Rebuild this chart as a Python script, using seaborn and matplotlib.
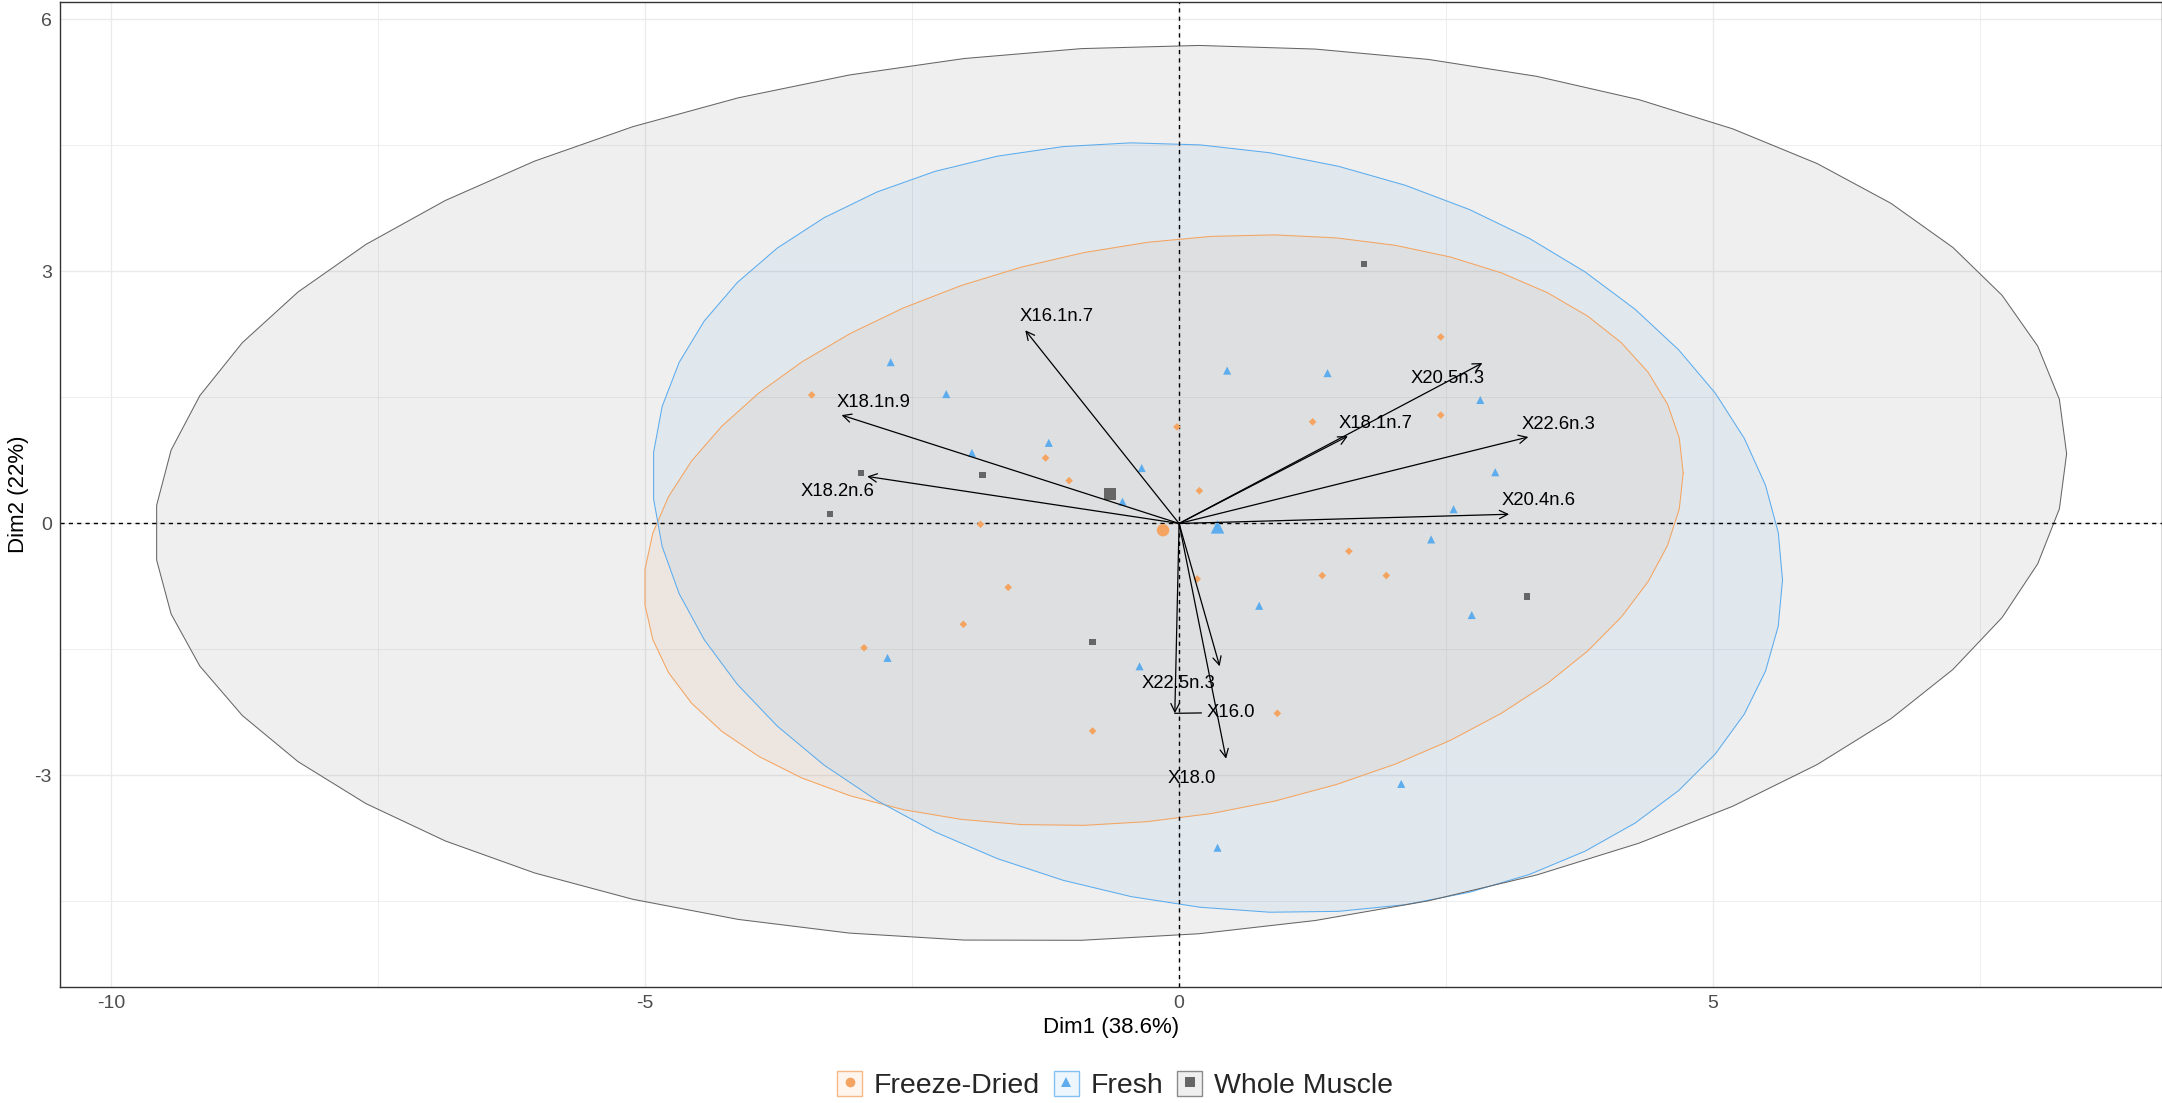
"""
PCA biplot - fatty acid profile by sample type
"""

import numpy as np
import pandas as pd
import matplotlib
matplotlib.use("Agg")
import matplotlib.pyplot as plt
from matplotlib.patches import Patch
from matplotlib.lines import Line2D
from matplotlib.legend_handler import HandlerTuple
from matplotlib.colors import to_rgba
import seaborn as sns

# -------------------------------------------------------
# Data
# -------------------------------------------------------

groups = ["Freeze-Dried", "Fresh", "Whole Muscle"]
colors = ["#F4A460", "#5CACEE", "#666666"]
shapes = ["o", "^", "s"]
small_shapes = ["D", "^", "s"]

# individuals
fd_x = [-3.44, -1.86, -1.25, -1.03, -0.02, 0.19, 0.17, 2.45, 2.45,
        1.25, 1.59, -1.60, 1.34, 1.94, -0.81, 0.92, -2.02, -2.95]
fd_y = [1.53, -0.01, 0.78, 0.51, 1.15, 0.39, -0.66, 2.22, 1.29,
        1.21, -0.33, -0.76, -0.62, -0.62, -2.47, -2.26, -1.20, -1.48]

fr_x = [-2.70, -2.18, -1.94, -1.22, -0.53, -0.35, 0.45, 1.39, 2.82,
        2.96, 2.57, 2.36, 0.75, 2.74, -0.37, 2.08, 0.36, -2.73]
fr_y = [1.92, 1.54, 0.84, 0.96, 0.26, 0.66, 1.82, 1.79, 1.47,
        0.61, 0.17, -0.19, -0.98, -1.09, -1.70, -3.10, -3.86, -1.60]

wm_x = [-2.98, -3.27, -1.84, 1.73, -0.81, 3.26]
wm_y = [0.60, 0.11, 0.58, 3.09, -1.41, -0.87]

# group centroids
cen_x = [-0.15, 0.36, -0.65]
cen_y = [-0.08, -0.04, 0.35]

# concentration ellipses: centre, x half-axis, xy term, y term
ell_cx = [-0.145, 0.36, -0.64]
ell_cy = [-0.08, -0.05, 0.36]
ell_rx = [4.865, 5.29, 8.95]
ell_rxy = [0.68, -0.62, 0.47]
ell_ry = [3.45, 4.54, 5.31]

# variables (arrow tips and label positions)
var_names = ["X16.1n.7", "X18.1n.9", "X18.2n.6", "X20.5n.3", "X18.1n.7",
             "X22.6n.3", "X20.4n.6", "X16.0", "X22.5n.3", "X18.0"]
var_x = [-1.44, -3.16, -2.92, 2.84, 1.58, 3.27, 3.09, -0.04, 0.38, 0.44]
var_y = [2.30, 1.29, 0.56, 1.91, 1.04, 1.03, 0.11, -2.26, -1.70, -2.80]
lab_x = [-1.15, -2.86, -3.20, 2.51, 1.84, 3.55, 3.37, 0.48, -0.01, 0.12]
lab_y = [2.46, 1.44, 0.38, 1.72, 1.19, 1.18, 0.27, -2.25, -1.90, -3.03]
lab_line = [False, False, False, False, False, False, False, True, False, False]

ind = pd.DataFrame({
    "x": fd_x + fr_x + wm_x,
    "y": fd_y + fr_y + wm_y,
    "group": [groups[0]] * len(fd_x) + [groups[1]] * len(fr_x) + [groups[2]] * len(wm_x),
})

cen = pd.DataFrame({"x": cen_x, "y": cen_y, "group": groups})

pal = dict(zip(groups, colors))

# -------------------------------------------------------
# Plot Style
# -------------------------------------------------------

sns.set_style("white")
plt.rcParams["font.family"] = ["Liberation Sans", "DejaVu Sans"]
plt.rcParams["axes.unicode_minus"] = False

fig = plt.figure(figsize=(21.62, 11.03), dpi=100)
ax = fig.add_axes([0.02775, 0.10562, 0.97225, 0.89257])

# -------------------------------------------------------
# Ellipses
# -------------------------------------------------------

t = np.linspace(0, 2 * np.pi, 52)

for i, g in enumerate(groups):
    ex = ell_cx[i] + ell_rx[i] * np.cos(t)
    ey = ell_cy[i] + ell_rxy[i] * np.cos(t) + ell_ry[i] * np.sin(t)
    ax.fill(ex, ey, facecolor=colors[i], alpha=0.1, edgecolor="none", zorder=1)
    ax.plot(ex, ey, color=colors[i], lw=0.75, zorder=1.5)

# -------------------------------------------------------
# Reference lines
# -------------------------------------------------------

ax.axhline(0, color="black", lw=1, ls=(0, (3, 3)), zorder=2)
ax.axvline(0, color="black", lw=1, ls=(0, (3, 3)), zorder=2)

# -------------------------------------------------------
# Points
# -------------------------------------------------------

sns.scatterplot(
    data=ind, x="x", y="y",
    hue="group", style="group", size="group",
    palette=pal, markers=dict(zip(groups, small_shapes)),
    sizes={groups[0]: 15, groups[1]: 34, groups[2]: 20},
    linewidth=0, legend=False, ax=ax, zorder=3
)

sns.scatterplot(
    data=cen, x="x", y="y",
    hue="group", style="group", size="group",
    palette=pal, markers=dict(zip(groups, shapes)),
    sizes={groups[0]: 80, groups[1]: 95, groups[2]: 72},
    linewidth=0, legend=False, ax=ax, zorder=3
)

# -------------------------------------------------------
# Variable arrows
# -------------------------------------------------------

for i, name in enumerate(var_names):
    ax.annotate(
        "", xy=(var_x[i], var_y[i]), xytext=(0, 0),
        arrowprops=dict(arrowstyle="->,head_length=0.6,head_width=0.3",
                        color="black", lw=0.9, shrinkA=0, shrinkB=0),
        zorder=4
    )
    if lab_line[i]:
        ax.annotate(
            name, xy=(var_x[i], var_y[i]), xytext=(lab_x[i], lab_y[i]),
            ha="center", va="center", fontsize=13.3, color="black",
            arrowprops=dict(arrowstyle="-", color="black", lw=0.9,
                            shrinkA=1, shrinkB=0),
            zorder=5
        )
    else:
        ax.text(lab_x[i], lab_y[i], name, ha="center", va="center",
                fontsize=13.3, color="black", zorder=5)

# -------------------------------------------------------
# Axes
# -------------------------------------------------------

ax.set_xlim(-10.478, 9.203)
ax.set_ylim(-5.512, 6.208)

ax.set_xticks([-10, -5, 0, 5])
ax.set_yticks([-3, 0, 3, 6])
ax.set_xticks([-7.5, -2.5, 2.5, 7.5], minor=True)
ax.set_yticks([-4.5, -1.5, 1.5, 4.5], minor=True)

ax.grid(which="major", color="#EBEBEB", lw=1.0)
ax.grid(which="minor", color="#EBEBEB", lw=0.6)
ax.set_axisbelow(True)

ax.tick_params(which="major", length=3, width=0.8, color="#333333",
               labelcolor="#4D4D4D", labelsize=14, pad=3)
ax.tick_params(which="minor", length=0)

for sp in ax.spines.values():
    sp.set_color("#333333")
    sp.set_linewidth(1.0)

ax.set_xlabel("Dim1 (38.6%)", fontsize=16, color="black")
ax.set_ylabel("Dim2 (22%)", fontsize=16, color="black")
ax.xaxis.set_label_coords(0.5, -0.031)
ax.yaxis.set_label_coords(-0.0148, 0.5)

# -------------------------------------------------------
# Legend
# -------------------------------------------------------

handles = []
for i, g in enumerate(groups):
    box = Patch(facecolor=to_rgba(colors[i], 0.1),
                edgecolor=to_rgba(colors[i], 0.75), lw=1)
    dot = Line2D([], [], marker=shapes[i], color=colors[i], ls="none",
                 markersize=7, markeredgewidth=0)
    handles.append((box, dot))

fig.legend(
    handles, groups,
    loc="center", bbox_to_anchor=(1115 / 2162, 1 - 1085 / 1103),
    ncol=3, frameon=False, fontsize=20.5,
    handlelength=0.88, handleheight=0.95,
    handletextpad=0.4, columnspacing=0.5,
    handler_map={tuple: HandlerTuple(ndivide=1)}
)

plt.savefig("out.png", dpi=100)
plt.close()
